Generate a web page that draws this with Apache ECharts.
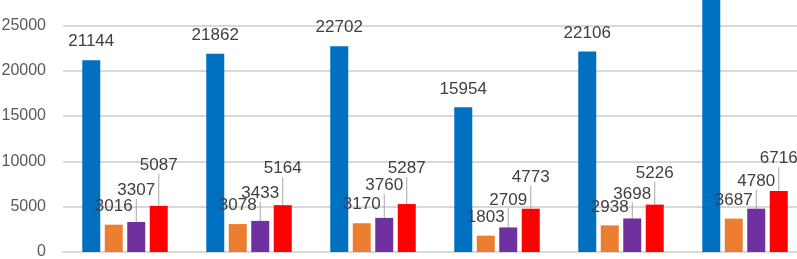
<!DOCTYPE html>
<html>
<head>
<meta charset="utf-8">
<script src="https://cdn.jsdelivr.net/npm/echarts@6/dist/echarts.min.js"></script>
<style>
  html, body { margin: 0; padding: 0; background: #fff; overflow: hidden; }
  /* the reference is a crop of a bigger chart: the top runs off the page */
  #chart { position: absolute; left: 0; top: -20px; width: 807px; height: 279px; }
</style>
</head>
<body>
<div id="chart"></div>
<script>
var chartDom = document.getElementById('chart');
var myChart = echarts.init(chartDom);

// data (last blue bar runs off the top, value estimated)
var categories = ['1', '2', '3', '4', '5', '6'];
var blueVals = [21144, 21862, 22702, 15954, 22106, 28500];
var orangeVals = [3016, 3078, 3170, 1803, 2938, 3687];
var purpleVals = [3307, 3433, 3760, 2709, 3698, 4780];
var redVals = [5087, 5164, 5287, 4773, 5226, 6716];

// how far the moved labels sit above their default spot (px)
var purpleLift = [13, 9, 14, 9, 6, 9];
var redLift = [22, 18, 17, 13, 13, 14];

var labelFont = {
  show: true,
  position: 'top',
  distance: 10,
  color: '#404040',
  fontSize: 17,
  fontFamily: 'Liberation Sans'
};

function movedLabel(lift) {
  return function (p) {
    return { dy: -lift[p.dataIndex] };
  };
}

var option = {
  animation: false,
  grid: { left: 63, right: 0, top: 0, bottom: 7, containLabel: false, outerBoundsMode: 'none' },
  xAxis: {
    type: 'category',
    data: categories,
    axisLine: { show: true, lineStyle: { color: '#d9d9d9', width: 2 } },
    axisTick: { show: false },
    axisLabel: { show: false }
  },
  yAxis: {
    type: 'value',
    min: 0,
    max: 30000,
    interval: 5000,
    axisLine: { show: false },
    axisTick: { show: false },
    splitLine: { lineStyle: { color: '#d9d9d9', width: 2 } },
    axisLabel: {
      color: '#595959',
      fontSize: 16,
      fontFamily: 'Liberation Sans',
      margin: 17,
      formatter: function (v) { return String(v); }
    }
  },
  series: [
    {
      name: 'blue', type: 'bar', data: blueVals,
      barWidth: 18, barGap: '25%',
      itemStyle: { color: '#0070C0' },
      label: labelFont
    },
    {
      name: 'orange', type: 'bar', data: orangeVals,
      barWidth: 18, barGap: '25%',
      itemStyle: { color: '#ED7D31' },
      label: labelFont
    },
    {
      name: 'purple', type: 'bar', data: purpleVals,
      barWidth: 18, barGap: '25%',
      itemStyle: { color: '#7030A0' },
      label: labelFont,
      labelLayout: movedLabel(purpleLift),
      labelLine: { show: true, lineStyle: { color: '#a6a6a6', width: 1 } }
    },
    {
      name: 'red', type: 'bar', data: redVals,
      barWidth: 18, barGap: '25%',
      itemStyle: { color: '#FF0000' },
      label: labelFont,
      labelLayout: movedLabel(redLift),
      labelLine: { show: true, lineStyle: { color: '#a6a6a6', width: 1 } }
    }
  ]
};

option && myChart.setOption(option);
</script>
</body>
</html>
